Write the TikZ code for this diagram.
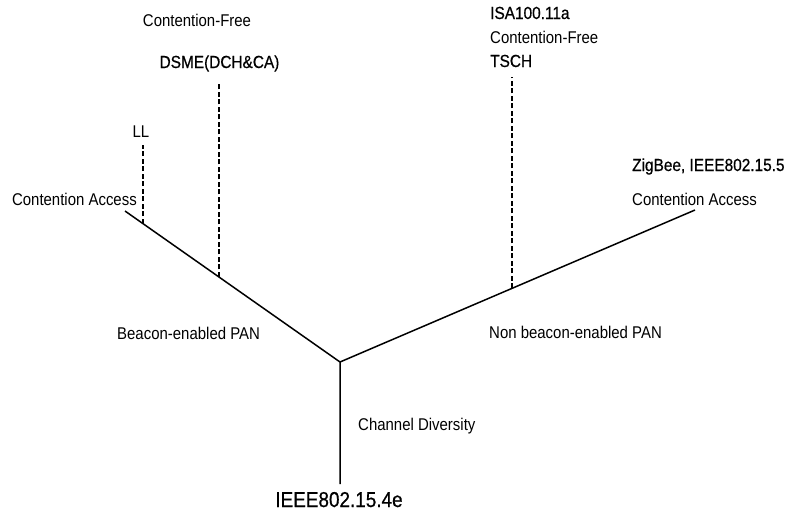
\documentclass[tikz,border=0pt]{standalone}
\usepackage{fontspec}
\setmainfont{Liberation Sans}[FakeStretch=0.88]
\newfontfamily\tagfont{Liberation Sans}[FakeStretch=0.88, FakeBold=0.6]
\usetikzlibrary{calc,positioning}
\tikzset{
  branch/.style={line width=1.5pt},
  stub/.style={line width=1.4pt, dash pattern=on 5pt off 2.5pt},
  note/.style={inner sep=0pt, font=\fontsize{17}{20}\selectfont},
  tag/.style={inner sep=0pt, font=\tagfont\fontsize{17.5}{21}\selectfont},
  rootlbl/.style={inner sep=0pt, font=\tagfont\fontsize{21.5}{25}\selectfont},
}

\begin{document}
\begin{tikzpicture}[x=1pt, y=-1pt]
  \useasboundingbox (0,0) rectangle (789,517);
  % tree
  \coordinate (fork) at (340,362);
  \coordinate (stem) at (340,484);
  \coordinate (lend) at (125,211);
  \coordinate (rend) at (695,210);
  \draw[branch] (stem) -- (fork) -- (lend);
  \draw[branch] (fork) -- (rend);
  % labels
  \node[rootlbl, anchor=base] (ieee) at (339,507) {IEEE802.15.4e};
  \node[note, anchor=base west] (chd) at (358,430) {Channel Diversity};
  \node[note, anchor=base west] (bpan) at (117,339) {Beacon-enabled PAN};
  \node[note, anchor=base west] (npan) at (489,338) {Non beacon-enabled PAN};
  \node[note, anchor=base east] (cal) at (137,205) {Contention Access};
  \node[note, anchor=base] (ll) at (141,137) {LL};
  \node[tag, anchor=base] (dsme) at (219.5,68) {DSME(DCH\&CA)};
  \node[note, anchor=base] (cfl) at (197,26) {Contention-Free};
  \node[tag, anchor=base west] (isa) at (490,19) {ISA100.11a};
  \node[note, anchor=base west] (cfr) at (490,43) {Contention-Free};
  \node[tag, anchor=base west] (tsch) at (490,67) {TSCH};
  \node[tag, anchor=base west] (zig) at (632,171) {ZigBee, IEEE802.15.5};
  \node[note, anchor=base west] (car) at (632,205) {Contention Access};
  % dashed stubs
  \coordinate (llfoot) at ($(fork)!0.916!(lend)$);
  \coordinate (dsmefoot) at ($(fork)!0.563!(lend)$);
  \coordinate (tschfoot) at ($(fork)!0.4845!(rend)$);
  \draw[stub, shorten >=8pt] (llfoot) -- (llfoot |- ll.base);
  \draw[stub, shorten >=15pt] (dsmefoot) -- (dsmefoot |- dsme.base);
  \draw[stub, shorten >=10pt] (tschfoot) -- (tschfoot |- tsch.base);
\end{tikzpicture}
\end{document}
